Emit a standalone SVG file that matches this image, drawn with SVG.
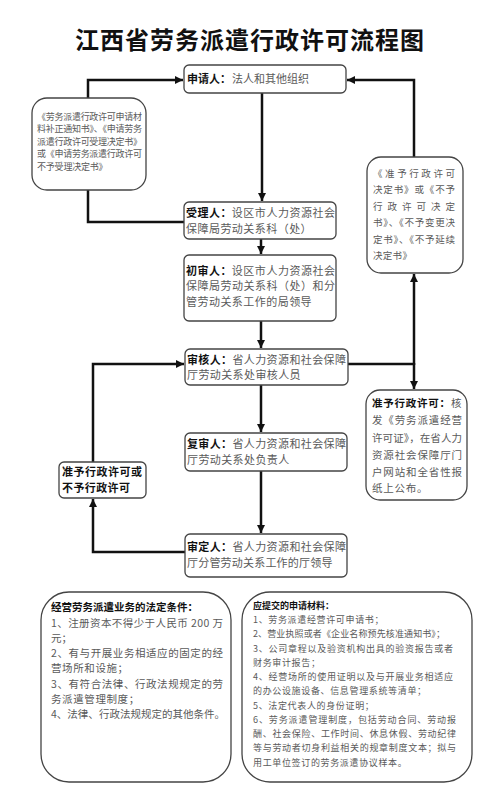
<svg xmlns="http://www.w3.org/2000/svg" width="500" height="808" viewBox="0 0 500 808">
<style>
text{font-family:"Noto Sans CJK SC","Noto Sans",sans-serif;fill:#5a5a5a;}
.t{font-size:24px;font-weight:bold;fill:#111;letter-spacing:1px;}
.n{font-size:11px;}
.b{font-weight:bold;fill:#111;}
.s9{font-size:9px;}
.s95{font-size:9.5px;}
.s105{font-size:10.5px;}
.box{fill:#fff;stroke:#444;stroke-width:1.3;}
.c{fill:none;stroke:#111;stroke-width:2.5;}
</style>
<defs>
<marker id="ah" markerUnits="userSpaceOnUse" markerWidth="9" markerHeight="9" refX="8" refY="4.5" orient="auto">
<path d="M0,0.5 L8,4.5 L0,8.5 z" fill="#111"/>
</marker>
</defs>
<rect width="500" height="808" fill="#fff"/>
<text class="t" x="250" y="49" text-anchor="middle">江西省劳务派遣行政许可流程图</text>

<g id="connectors">
<path class="c" d="M262,93 V201" marker-end="url(#ah)"/>
<path class="c" d="M185,222 H88 V190"/>
<path class="c" d="M88,98 V80 H183" marker-end="url(#ah)"/>
<path class="c" d="M261,239 V254" marker-end="url(#ah)"/>
<path class="c" d="M261,321 V348" marker-end="url(#ah)"/>
<path class="c" d="M261,385 V432" marker-end="url(#ah)"/>
<path class="c" d="M261,471 V533" marker-end="url(#ah)"/>
<path class="c" d="M185,552 H93 V499" marker-end="url(#ah)"/>
<path class="c" d="M93,462 V364 H184" marker-end="url(#ah)"/>
<path class="c" d="M348,364 H414"/>
<path class="c" d="M414,365 V274" marker-end="url(#ah)"/>
<path class="c" d="M414,363 V389" marker-end="url(#ah)"/>
<path class="c" d="M414,157 V80 H347" marker-end="url(#ah)"/>
</g>

<g id="n-applicant">
<rect class="box" x="184" y="65" width="162" height="28" rx="5"/>
<text class="n b" x="187" y="83">申请人：</text>
<text class="n" x="232" y="83">法人和其他组织</text>
</g>

<g id="n-left-note">
<rect class="box" x="32" y="98" width="114" height="92" rx="15"/>
<text class="s9" x="37" y="119.5" textLength="105" lengthAdjust="spacing">《劳务派遣行政许可申请材</text>
<text class="s9" x="37" y="132" textLength="105" lengthAdjust="spacing">料补正通知书》、《申请劳务</text>
<text class="s9" x="37" y="144.5" textLength="105" lengthAdjust="spacing">派遣行政许可受理决定书》</text>
<text class="s9" x="37" y="157" textLength="105" lengthAdjust="spacing">或《申请劳务派遣行政许可</text>
<text class="s9" x="37" y="169.5" letter-spacing="-0.2">不予受理决定书》</text>
</g>

<g id="n-accept">
<rect class="box" x="184" y="202" width="152" height="37" rx="5"/>
<text class="n b" x="186" y="217" letter-spacing="0.46">受理人：</text>
<text class="n" x="231.8" y="217" textLength="103.2" lengthAdjust="spacing">设区市人力资源社会</text>
<text class="n" x="186" y="232.5" letter-spacing="0.46">保障局劳动关系科（处）</text>
</g>

<g id="n-first">
<rect class="box" x="184" y="255" width="152" height="66" rx="5"/>
<text class="n b" x="186" y="274.5" letter-spacing="0.46">初审人：</text>
<text class="n" x="231.8" y="274.5" textLength="103.2" lengthAdjust="spacing">设区市人力资源社会</text>
<text class="n" x="186" y="290" textLength="149" lengthAdjust="spacing">保障局劳动关系科（处）和分</text>
<text class="n" x="186" y="305.5" letter-spacing="0.46">管劳动关系工作的局领导</text>
</g>

<g id="n-review">
<rect class="box" x="185" y="349" width="163" height="36" rx="5"/>
<text class="n b" x="187" y="363.5" letter-spacing="0.36">审核人：</text>
<text class="n" x="232.4" y="363.5" textLength="113.6" lengthAdjust="spacing">省人力资源和社会保障</text>
<text class="n" x="187" y="379" letter-spacing="0.4">厅劳动关系处审核人员</text>
</g>

<g id="n-recheck">
<rect class="box" x="185" y="433" width="162" height="38" rx="5"/>
<text class="n b" x="187" y="448" letter-spacing="0.36">复审人：</text>
<text class="n" x="232.4" y="448" textLength="113.6" lengthAdjust="spacing">省人力资源和社会保障</text>
<text class="n" x="187" y="463.5" letter-spacing="0.4">厅劳动关系处负责人</text>
</g>

<g id="n-decide">
<rect class="box" x="185" y="534" width="162" height="43" rx="5"/>
<text class="n b" x="187" y="551" letter-spacing="0.36">审定人：</text>
<text class="n" x="232.4" y="551" textLength="113.6" lengthAdjust="spacing">省人力资源和社会保障</text>
<text class="n" x="187" y="566.5" letter-spacing="0.2">厅分管劳动关系工作的厅领导</text>
</g>

<g id="n-result">
<rect class="box" x="59" y="462" width="87" height="36" rx="5"/>
<text class="n b" x="62" y="476" textLength="80" lengthAdjust="spacing">准予行政许可或</text>
<text class="n b" x="62" y="491.5" letter-spacing="0.4">不予行政许可</text>
</g>

<g id="n-right-note">
<rect class="box" x="367" y="157" width="96" height="116" rx="14"/>
<text class="s95" x="373" y="176.5" textLength="82" lengthAdjust="spacing">《准予行政许可</text>
<text class="s95" x="373" y="193" textLength="82" lengthAdjust="spacing">决定书》或《不予</text>
<text class="s95" x="373" y="209.5" textLength="82" lengthAdjust="spacing">行政许可决定</text>
<text class="s95" x="373" y="226" textLength="82" lengthAdjust="spacing">书》、《不予变更决</text>
<text class="s95" x="373" y="242.5" textLength="82" lengthAdjust="spacing">定书》、《不予延续</text>
<text class="s95" x="373" y="259" letter-spacing="0.3">决定书》</text>
</g>

<g id="n-grant">
<rect class="box" x="366" y="390" width="101" height="110" rx="14"/>
<text class="s105 b" x="372" y="407" letter-spacing="0.75">准予行政许可：</text>
<text class="s105" x="451" y="407">核</text>
<text class="s105" x="372" y="424" textLength="90" lengthAdjust="spacing">发《劳务派遣经营</text>
<text class="s105" x="372" y="441.5" textLength="90" lengthAdjust="spacing">许可证》，在省人力</text>
<text class="s105" x="372" y="458.5" textLength="90" lengthAdjust="spacing">资源社会保障厅门</text>
<text class="s105" x="372" y="475.5" textLength="90" lengthAdjust="spacing">户网站和全省性报</text>
<text class="s105" x="372" y="492" letter-spacing="0.75">纸上公布。</text>
</g>

<g id="n-conditions">
<rect class="box" x="41" y="592" width="190" height="190" rx="28"/>
<text class="s105 b" x="51" y="611">经营劳务派遣业务的法定条件：</text>
<text class="s105" x="51" y="626.5" textLength="172" lengthAdjust="spacing">1、注册资本不得少于人民币 200 万</text>
<text class="s105" x="51" y="641.8">元；</text>
<text class="s105" x="51" y="657" textLength="172" lengthAdjust="spacing">2、有与开展业务相适应的固定的经</text>
<text class="s105" x="51" y="672.3" letter-spacing="0.6">营场所和设施；</text>
<text class="s105" x="51" y="687.6" textLength="172" lengthAdjust="spacing">3、有符合法律、行政法规规定的劳</text>
<text class="s105" x="51" y="703" letter-spacing="0.6">务派遣管理制度；</text>
<text class="s105" x="51" y="718.2" textLength="174" lengthAdjust="spacing">4、法律、行政法规规定的其他条件。</text>
</g>

<g id="n-materials">
<rect class="box" x="242" y="592" width="230" height="190" rx="28"/>
<text class="s9 b" x="253" y="608.5">应提交的申请材料：</text>
<text class="s9" x="253" y="623" letter-spacing="0.65">1、劳务派遣经营许可申请书；</text>
<text class="s9" x="253" y="637" textLength="192" lengthAdjust="spacing">2、营业执照或者《企业名称预先核准通知书》；</text>
<text class="s9" x="253" y="651.5" textLength="200" lengthAdjust="spacing">3、公司章程以及验资机构出具的验资报告或者</text>
<text class="s9" x="253" y="665.5" letter-spacing="0.65">财务审计报告；</text>
<text class="s9" x="253" y="680" textLength="200" lengthAdjust="spacing">4、经营场所的使用证明以及与开展业务相适应</text>
<text class="s9" x="253" y="694" letter-spacing="0.65">的办公设施设备、信息管理系统等清单；</text>
<text class="s9" x="253" y="708.5" letter-spacing="0.65">5、法定代表人的身份证明；</text>
<text class="s9" x="253" y="722.5" textLength="203" lengthAdjust="spacing">6、劳务派遣管理制度，包括劳动合同、劳动报</text>
<text class="s9" x="253" y="737" textLength="203" lengthAdjust="spacing">酬、社会保险、工作时间、休息休假、劳动纪律</text>
<text class="s9" x="253" y="751" textLength="203" lengthAdjust="spacing">等与劳动者切身利益相关的规章制度文本；拟与</text>
<text class="s9" x="253" y="765.5" letter-spacing="0.65">用工单位签订的劳务派遣协议样本。</text>
</g>
</svg>
